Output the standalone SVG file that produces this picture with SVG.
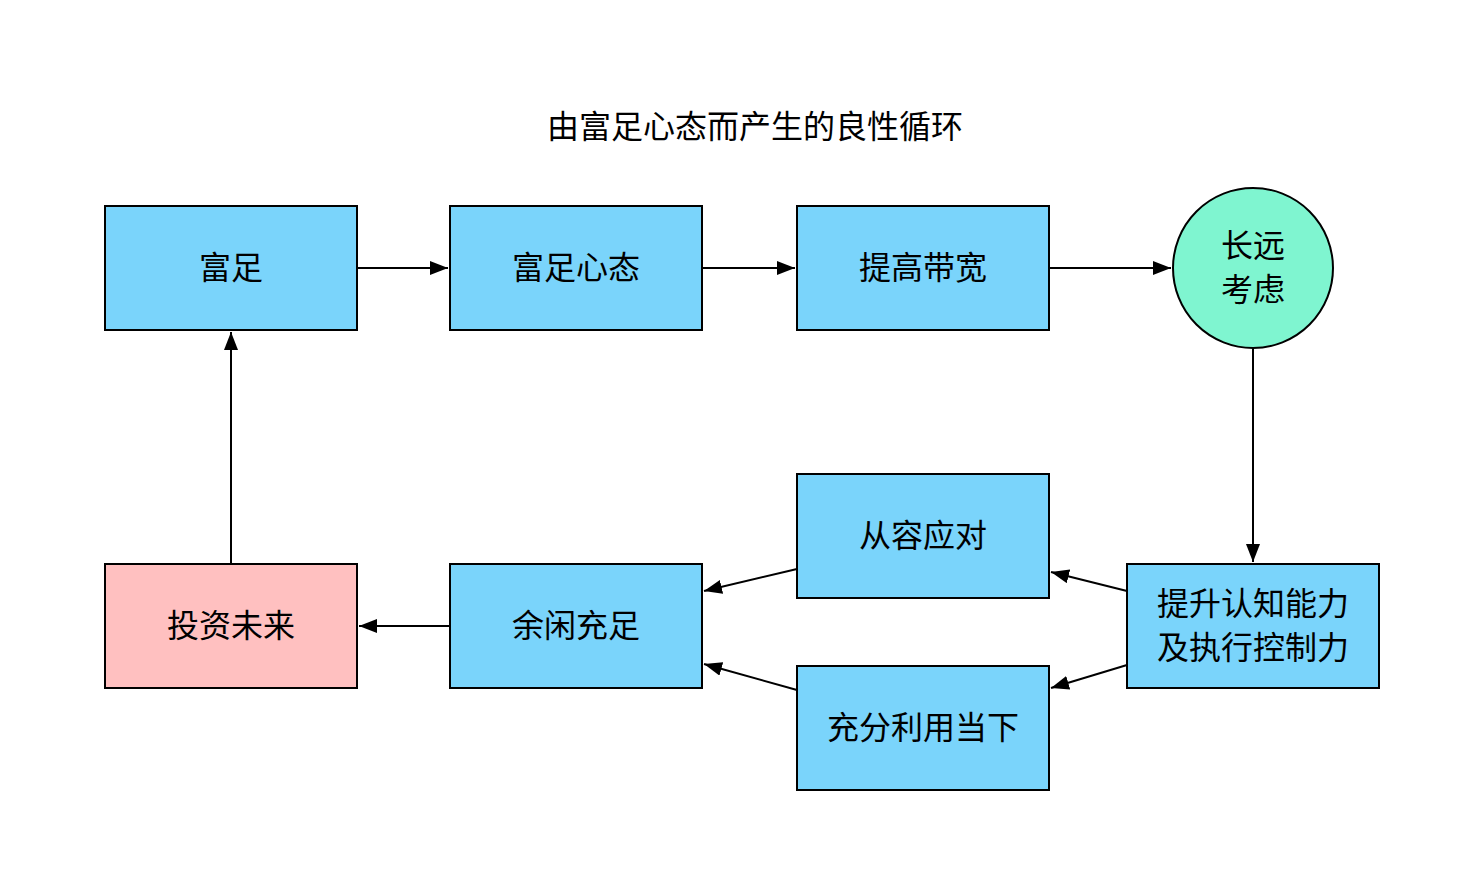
<svg xmlns="http://www.w3.org/2000/svg" width="1474" height="896" viewBox="0 0 1474 896">
<defs>
<style>
.n{fill:#7ad4fb;stroke:#000;stroke-width:2}
.t{font-family:"Liberation Sans","Noto Sans CJK SC",sans-serif;font-size:32px;fill:#000;text-anchor:middle;dominant-baseline:central}
.c{stroke:#000;stroke-width:2;fill:none;marker-end:url(#a)}
</style>
<marker id="a" viewBox="0 0 18 14" refX="18" refY="7" markerWidth="18" markerHeight="14" markerUnits="userSpaceOnUse" orient="auto"><path d="M0,0 L18,7 L0,14 Z" fill="#000"/></marker>
</defs>
<rect width="1474" height="896" fill="#fff"/>
<text class="t" x="755" y="127">由富足心态而产生的良性循环</text>
<g id="connectors">
<line class="c" x1="357" y1="268" x2="448" y2="268"/>
<line class="c" x1="702" y1="268" x2="795" y2="268"/>
<line class="c" x1="1049" y1="268" x2="1171" y2="268"/>
<line class="c" x1="1253" y1="348" x2="1253" y2="562"/>
<line class="c" x1="1127" y1="591" x2="1051" y2="572"/>
<line class="c" x1="1127" y1="665" x2="1051" y2="688"/>
<line class="c" x1="797" y1="569" x2="704" y2="591"/>
<line class="c" x1="797" y1="690" x2="704" y2="664"/>
<line class="c" x1="450" y1="626" x2="359" y2="626"/>
<line class="c" x1="231" y1="564" x2="231" y2="332"/>
</g>
<g id="n1"><rect class="n" x="105" y="206" width="252" height="124"/><text class="t" x="231" y="268">富足</text></g>
<g id="n2"><rect class="n" x="450" y="206" width="252" height="124"/><text class="t" x="576" y="268">富足心态</text></g>
<g id="n3"><rect class="n" x="797" y="206" width="252" height="124"/><text class="t" x="923" y="268">提高带宽</text></g>
<g id="n4"><circle cx="1253" cy="268" r="80" fill="#7ff5d0" stroke="#000" stroke-width="2"/><text class="t" x="1253" y="246">长远</text><text class="t" x="1253" y="290">考虑</text></g>
<g id="n5"><rect class="n" x="1127" y="564" width="252" height="124"/><text class="t" x="1253" y="604">提升认知能力</text><text class="t" x="1253" y="648">及执行控制力</text></g>
<g id="n6"><rect class="n" x="797" y="474" width="252" height="124"/><text class="t" x="923" y="536">从容应对</text></g>
<g id="n7"><rect class="n" x="797" y="666" width="252" height="124"/><text class="t" x="923" y="728">充分利用当下</text></g>
<g id="n8"><rect class="n" x="450" y="564" width="252" height="124"/><text class="t" x="576" y="626">余闲充足</text></g>
<g id="n9"><rect x="105" y="564" width="252" height="124" fill="#ffc0c0" stroke="#000" stroke-width="2"/><text class="t" x="231" y="626">投资未来</text></g>
</svg>
